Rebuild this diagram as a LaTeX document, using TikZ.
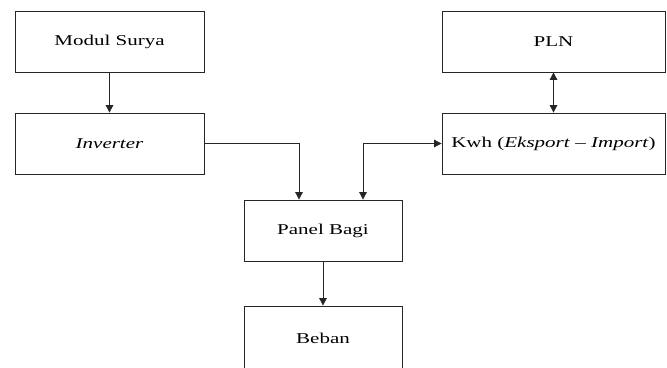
\documentclass[tikz,border=0pt]{standalone}
\usepackage{fontspec}
\setmainfont{Liberation Serif}[FakeStretch=1.4]
\usetikzlibrary{arrows.meta}
\begin{document}
\begin{tikzpicture}[x=1pt,y=-1pt,
  blok/.style={draw=black!85, line width=0.8pt, inner sep=0pt, minimum height=61pt, font=\fontsize{15}{18}\selectfont, align=center},
  tip/.tip={Triangle[width=7.5pt,length=7.5pt]},
  conn/.style={draw=black!85, line width=0.8pt, -tip},
  biconn/.style={draw=black!85, line width=0.8pt, tip-tip}]
\useasboundingbox (0,0) rectangle (667,367);
\clip (0,0) rectangle (667,367);
\fill[white] (0,0) rectangle (667,367);
\node[blok, minimum width=189pt] (ms) at (109.5,41.5) {Modul Surya};
\node[blok, minimum width=189pt] (inv) at (109.5,143.5) {\itshape Inverter};
\node[blok, minimum width=223pt] (pln) at (553.5,41.5) {PLN};
\node[blok, minimum width=223pt] (kwh) at (553.5,143.5) {Kwh (\textit{Eksport} – \textit{Import})};
\node[blok, minimum width=158pt] (pb) at (323,230.5) {Panel Bagi};
\node[blok, minimum width=158pt, minimum height=64pt] (bb) at (323,338) {Beban};
\draw[conn] (ms) -- (inv);
\draw[biconn] (pln) -- (kwh);
\draw[conn] (inv.east) -| ([xshift=-24pt]pb.north);
\draw[biconn] ([xshift=40pt]pb.north) |- (kwh.west);
\draw[conn] (pb) -- (bb);
\end{tikzpicture}
\end{document}
